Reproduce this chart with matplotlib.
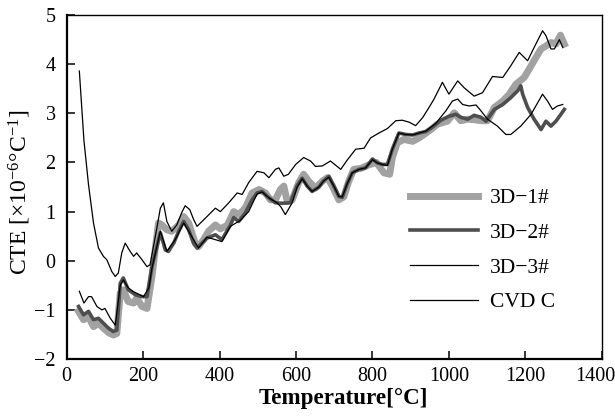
import matplotlib
matplotlib.use("Agg")
import matplotlib.pyplot as plt
from matplotlib.transforms import ScaledTranslation

plt.rcParams['font.family'] = ['Liberation Serif', 'DejaVu Serif']
plt.rcParams['mathtext.fontset'] = 'custom'
plt.rcParams['mathtext.rm'] = 'Liberation Serif'
plt.rcParams['mathtext.it'] = 'Liberation Serif:italic'
plt.rcParams['mathtext.bf'] = 'Liberation Serif:bold'

# ---- data ----
T_1 = [31, 44, 57, 70, 83, 96, 109, 122, 131, 140, 148, 161, 175, 183, 197, 210, 223, 240, 249, 262,
       275, 293, 306, 319, 336, 345, 358, 371, 389, 402, 420, 437, 450, 467, 485, 503, 520, 533, 546, 559,
       568, 577, 590, 607, 620, 633, 651, 669, 682, 695, 712, 725, 738, 751, 770, 790, 810, 830, 845, 852,
       865, 882, 905, 922, 953, 970, 996, 1014, 1031, 1049, 1066, 1084, 1101, 1119, 1141, 1158, 1175, 1197, 1210, 1228,
       1241, 1254, 1267, 1280, 1292, 1302]
v_1 = [-1.03, -1.2, -1.14, -1.34, -1.27, -1.37, -1.46, -1.51, -1.48, -0.66, -0.59, -0.83, -0.86, -0.76, -0.93, -0.97, -0.32, 0.77, 0.73, 0.63,
       0.6, 0.73, 0.9, 0.77, 0.36, 0.29, 0.43, 0.6, 0.73, 0.65, 0.72, 1.0, 0.94, 1.07, 1.38, 1.45, 1.38, 1.24, 1.24, 1.45,
       1.52, 1.21, 1.24, 1.59, 1.76, 1.62, 1.48, 1.62, 1.69, 1.52, 1.24, 1.3, 1.62, 1.86, 1.88, 1.95, 2.0, 1.79, 1.76, 2.1,
       2.4, 2.47, 2.43, 2.5, 2.67, 2.78, 2.84, 3.01, 2.85, 2.88, 2.87, 2.85, 2.85, 3.12, 3.25, 3.39, 3.59, 3.73, 3.9, 4.14,
       4.31, 4.37, 4.44, 4.41, 4.59, 4.41]

T_2 = [31, 44, 57, 70, 83, 96, 109, 122, 131, 140, 148, 161, 179, 197, 210, 223, 245, 258, 266, 280,
       293, 306, 319, 332, 341, 354, 367, 389, 406, 428, 437, 450, 467, 485, 498, 511, 529, 546, 564, 585,
       603, 616, 629, 642, 660, 669, 686, 699, 712, 721, 734, 747, 765, 782, 800, 813, 826, 839, 852, 869,
       887, 905, 922, 940, 957, 979, 1000, 1018, 1031, 1049, 1066, 1084, 1097, 1119, 1141, 1162, 1180, 1188, 1193, 1206,
       1223, 1241, 1254, 1267, 1280, 1293, 1302]
v_2 = [-0.93, -1.1, -1.03, -1.2, -1.17, -1.27, -1.37, -1.44, -1.41, -0.46, -0.35, -0.59, -0.69, -0.73, -0.73, -0.12, 0.57, 0.22, 0.19, 0.36,
       0.6, 0.8, 0.63, 0.36, 0.26, 0.36, 0.46, 0.53, 0.43, 0.72, 0.88, 0.8, 0.97, 1.24, 1.38, 1.41, 1.28, 1.18, 1.17, 1.18,
       1.53, 1.68, 1.52, 1.41, 1.5, 1.6, 1.72, 1.52, 1.31, 1.29, 1.57, 1.79, 1.86, 1.89, 2.07, 1.99, 1.96, 1.96, 2.27, 2.6,
       2.57, 2.56, 2.6, 2.63, 2.72, 2.86, 2.94, 2.98, 2.92, 2.88, 2.96, 2.92, 2.84, 3.08, 3.18, 3.32, 3.46, 3.56, 3.39, 3.12,
       2.88, 2.67, 2.84, 2.74, 2.84, 2.98, 3.08]

T_3 = [33, 45, 57, 65, 79, 92, 100, 114, 127, 140, 148, 161, 175, 201, 215, 223, 245, 262, 284, 306,
       319, 345, 367, 406, 428, 454, 476, 498, 511, 529, 550, 560, 572, 590, 603, 616, 629, 642, 660, 673,
       686, 699, 712, 721, 734, 747, 765, 782, 800, 813, 826, 839, 852, 869, 887, 905, 922, 940, 966, 992,
       1009, 1023, 1036, 1053, 1071, 1084, 1101, 1127, 1149, 1162, 1188, 1215, 1245, 1258, 1271, 1284, 1298]
v_3 = [-0.62, -0.86, -0.73, -0.73, -0.93, -1.0, -0.97, -1.17, -1.31, -0.5, -0.39, -0.55, -0.63, -0.73, -0.55, -0.15, 0.6, 0.19, 0.43, 0.77,
       0.6, 0.26, 0.48, 0.39, 0.7, 0.82, 1.0, 1.36, 1.4, 1.28, 1.18, 1.1, 0.94, 1.18, 1.5, 1.67, 1.52, 1.41, 1.5, 1.63,
       1.7, 1.52, 1.31, 1.3, 1.57, 1.79, 1.86, 1.89, 2.06, 1.99, 1.96, 1.94, 2.27, 2.6, 2.57, 2.56, 2.6, 2.64, 2.8, 3.05,
       3.25, 3.29, 3.18, 3.15, 3.17, 3.05, 2.88, 2.74, 2.57, 2.57, 2.74, 2.98, 3.39, 3.25, 3.08, 3.15, 3.18]

T_cvd = [33, 45, 57, 70, 83, 96, 105, 118, 127, 135, 144, 153, 166, 175, 183, 197, 210, 218, 232, 245,
         253, 262, 275, 288, 302, 310, 322, 332, 341, 354, 367, 389, 402, 424, 446, 459, 476, 498, 516, 529,
         546, 555, 568, 580, 599, 620, 638, 651, 669, 690, 717, 734, 756, 778, 795, 817, 839, 861, 878, 896,
         913, 931, 948, 961, 983, 1000, 1023, 1040, 1066, 1088, 1114, 1141, 1162, 1184, 1206, 1223, 1245, 1254, 1267, 1276,
         1289, 1298]
v_cvd = [3.86, 2.45, 1.55, 0.77, 0.26, 0.09, 0.02, -0.22, -0.32, -0.25, 0.16, 0.36, 0.19, 0.09, 0.16, 0.02, -0.12, -0.08, 0.5, 1.07,
         1.18, 0.8, 0.6, 0.73, 1.0, 1.12, 1.04, 0.84, 0.7, 0.8, 0.9, 1.07, 1.0, 1.18, 1.38, 1.35, 1.59, 1.82, 1.79, 1.69,
         1.86, 1.89, 1.72, 1.76, 1.96, 2.1, 2.03, 1.92, 1.93, 2.03, 1.86, 2.05, 2.27, 2.29, 2.5, 2.6, 2.69, 2.85, 2.86, 2.82,
         2.75, 2.91, 3.12, 3.29, 3.63, 3.39, 3.66, 3.52, 3.35, 3.42, 3.75, 3.73, 3.97, 4.24, 4.07, 4.34, 4.68, 4.58, 4.31, 4.31,
         4.5, 4.34]

labels = ['3D\u22121#', '3D\u22122#', '3D\u22123#', 'CVD C']
x_ticks = [0, 200, 400, 600, 800, 1000, 1200, 1400]
y_ticks = [-2, -1, 0, 1, 2, 3, 4, 5]

# ---- figure ----
fig = plt.figure(figsize=(6.15, 4.18), dpi=100)
ax = fig.add_axes([0.1085, 0.141, 0.870, 0.823])

ax.plot(T_1, v_1, color='#a2a2a2', lw=5.0, solid_joinstyle='round', label=labels[0], zorder=2)
ax.plot(T_2, v_2, color='#4e4e4e', lw=2.6, solid_joinstyle='round', label=labels[1], zorder=3)
ax.plot(T_3, v_3, color='black', lw=0.9, label=labels[2], zorder=4)
ax.plot(T_cvd, v_cvd, color='black', lw=0.9, label=labels[3], zorder=4)

ax.set_xlim(0, 1400)
ax.set_ylim(-2, 5)
ax.set_xticks(x_ticks)
ax.set_yticks(y_ticks)
ax.tick_params(direction='in', length=6, width=1.1, labelsize=14.5)
ax.tick_params(axis='x', pad=6)
ax.tick_params(axis='y', pad=8)

# shift the last x tick label slightly left so it stays inside the figure
last = ax.xaxis.get_major_ticks()[-1].label1
last.set_transform(last.get_transform() + ScaledTranslation(-6.5 / 100, 0, fig.dpi_scale_trans))

for s in ['left', 'bottom']:
    ax.spines[s].set_linewidth(1.6)
for s in ['top', 'right']:
    ax.spines[s].set_linewidth(1.0)

ax.set_xlabel('Temperature[°C]', fontsize=16.6, fontweight='bold')
ax.xaxis.set_label_coords(0.517, -0.084)
ax.set_ylabel('CTE [×10$^{\\mathrm{-6}}$°C$^{\\mathrm{-1}}$]', fontsize=17)
ax.yaxis.set_label_coords(-0.063, 0.484)

leg = ax.legend(loc='upper left', bbox_to_anchor=(0.642, 0.497), frameon=False,
                fontsize=15.5, handlelength=3.16, handletextpad=0.56, labelspacing=0.68,
                borderpad=0, borderaxespad=0)

fig.savefig('out.png', dpi=100)
